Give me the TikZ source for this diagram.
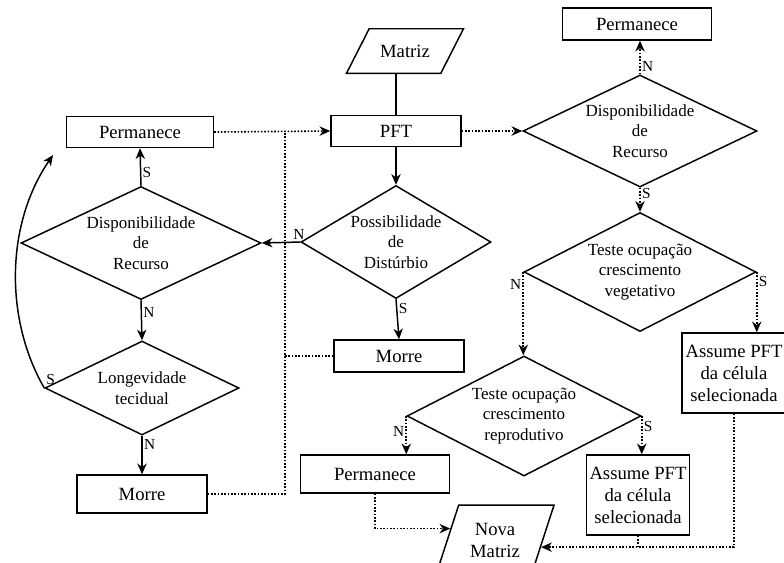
\documentclass[tikz,border=0pt]{standalone}
\usepackage{fontspec}
\setmainfont{Liberation Serif}
\newfontfamily\tnr{Liberation Serif}
\usetikzlibrary{shapes.geometric,arrows.meta,calc}

\begin{document}
\begin{tikzpicture}
  [x=0.75pt, y=-0.75pt, line width=1.1pt,
  box/.style = {draw, rectangle, inner sep=0pt, align=center,
                font=\tnr\fontsize{14}{16.5}\selectfont},
  decision/.style = {draw, diamond, inner sep=0pt, align=center,
                font=\tnr\fontsize{12.75}{15.3}\selectfont},
  io/.style = {draw, trapezium, trapezium stretches body=true, inner xsep=0pt,
                align=center, font=\tnr\fontsize{14}{16.5}\selectfont},
  lbl/.style = {inner sep=1pt, font=\tnr\fontsize{11.5}{12}\selectfont},
  flow/.style = {-{Stealth[length=8pt, width=7pt, inset=2.5pt]}},
  fb/.style = {line width=1.2pt, dash pattern=on 1.2pt off 1.3pt}]
  \useasboundingbox (0,0) rectangle (784,562);
  % Entrada
  \node[io, trapezium left angle=63, trapezium right angle=117,
        minimum width=87.75pt, inner ysep=12pt] (matriz) at (405,51) {Matriz};
  \node[box, minimum width=97.5pt, minimum height=23.25pt] (pft) at (396,131) {PFT};
  \node[decision, aspect=1.68, minimum width=142.5pt, minimum height=84.75pt]
        (dist) at (396,242) {Possibilidade\\de\\Distúrbio};
  \node[box, minimum width=97.5pt, minimum height=24pt] (morreA) at (399,356) {Morre};
  % Ramo esquerdo
  \node[box, minimum width=110.25pt, minimum height=23.25pt] (permL) at (140,132) {Permanece};
  \node[decision, aspect=2.12, minimum width=180pt, minimum height=84.75pt]
        (dispL) at (141,243) {Disponibilidade\\de\\Recurso};
  \node[decision, aspect=2.06, minimum width=145.5pt, minimum height=70.5pt]
        (longev) at (142,388) {Longevidade\\tecidual};
  \node[box, minimum width=97.5pt, minimum height=28.5pt] (morreL) at (142,494) {Morre};
  % Ramo direito
  \node[decision, aspect=2.09, minimum width=175.5pt, minimum height=84pt]
        (dispR) at (640,131) {Disponibilidade\\de\\Recurso};
  \node[box, minimum width=111.75pt, minimum height=24pt] (permR) at (637,24) {Permanece};
  \node[decision, aspect=1.95, minimum width=174pt, minimum height=89.25pt]
        (vege) at (640,272) {Teste ocupação\\crescimento\\vegetativo};
  \node[decision, aspect=1.95, minimum width=175.5pt, minimum height=90pt]
        (repro) at (524,416) {Teste ocupação\\crescimento\\reprodutivo};
  \node[box, minimum width=78pt, minimum height=60pt] (assR) at (734,373)
        {Assume PFT\\da célula\\selecionada};
  \node[box, minimum width=111.75pt, minimum height=28.5pt] (permB) at (375,474) {Permanece};
  \node[box, minimum width=77.25pt, minimum height=60pt] (assB) at (638,495)
        {Assume PFT\\da célula\\selecionada};
  % Saida
  \node[io, trapezium left angle=72, trapezium right angle=108,
        minimum width=88.5pt, inner ysep=13.25pt] (nova) at (495,540) {Nova\\Matriz};

  % Ligacoes
  \draw (pft.north |- matriz.south) -- (pft.north);
  \draw[flow] (pft) -- (dist);
  \draw[flow] (dist.west) -- (dispL.east) node[lbl, pos=0, above, xshift=-1pt] (nDist) {N};
  \draw[flow] (dist.south) -- (morreA.north) node[lbl, pos=0.24, right] (sDist) {S};
  \draw[flow] (dispL.north) -- (permL.south) node[lbl, pos=0.36, right] (sDispL) {S};
  \draw[flow] (dispL.south) -- (longev.north) node[lbl, pos=0.3, right] (nDispL) {N};
  \draw[flow] (longev.south) -- (morreL.north) node[lbl, pos=0.22, right] (nLong) {N};
  \coordinate (volta) at (53,155);
  \draw[flow] (longev.west) .. controls (5,320) and (5,225) .. (volta);
  \node[lbl, above right, yshift=1pt] (sLong) at (longev.west) {S};
  % Retorno pontilhado
  \coordinate (jn) at (285,131);
  \draw[fb, flow] (permL.east) -- (pft.west);
  \draw[fb] (morreL.east) -| (jn);
  \draw[fb] (morreA.west) -- (morreA.west -| jn);
  \draw[fb, flow] (pft.east) -- (dispR.west);
  \draw[fb, flow] (dispR.north) -- (dispR.north |- permR.south) node[lbl, pos=0.23, right] (nDispR) {N};
  \draw[fb, flow] (dispR.south) -- (vege.north) node[lbl, pos=0.25, right] (sDispR) {S};
  \draw[fb, flow] (vege.west) -- (vege.west |- repro.north) node[lbl, pos=0.15, left] (nVege) {N};
  \draw[fb, flow] (vege.east) -- (vege.east |- assR.north) node[lbl, pos=0.15, right] (sVege) {S};
  \draw[fb, flow] (repro.west) -- (repro.west |- permB.north) node[lbl, pos=0.4, left] (nRepro) {N};
  \draw[fb, flow] (repro.east) -- (repro.east |- assB.north) node[lbl, pos=0.28, right] (sRepro) {S};
  \coordinate (inE) at ($(nova.top left corner)!0.34!(nova.bottom left corner)$);
  \coordinate (inD) at ($(nova.top right corner)!0.6!(nova.bottom right corner)$);
  \draw[fb, flow] (permB.south) |- (inE);
  \draw[fb, flow] (assR.south) |- (inD);
  \draw[fb] (assB.south) -- (assB.south |- inD);
\end{tikzpicture}
\end{document}
